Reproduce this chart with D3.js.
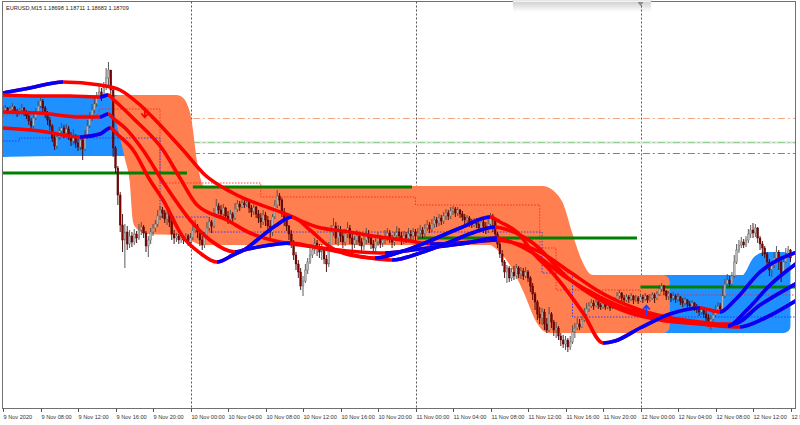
<!DOCTYPE html>
<html><head><meta charset="utf-8">
<script src="https://cdn.jsdelivr.net/npm/d3@7/dist/d3.min.js"></script>
<style>html,body{margin:0;padding:0;background:#fff;}svg{display:block;}</style>
</head><body>
<svg id="chart" width="800" height="425"></svg>
<script>
const symbol = "EURUSD,M15";
const quote = ["1.18698","1.18711","1.18683","1.18709"];
const tickLabels = ["9 Nov 2020","9 Nov 08:00","9 Nov 12:00","9 Nov 16:00","9 Nov 20:00",
 "10 Nov 00:00","10 Nov 04:00","10 Nov 08:00","10 Nov 12:00","10 Nov 16:00","10 Nov 20:00",
 "11 Nov 00:00","11 Nov 04:00","11 Nov 08:00","11 Nov 12:00","11 Nov 16:00","11 Nov 20:00",
 "12 Nov 00:00","12 Nov 04:00","12 Nov 08:00","12 Nov 12:00","12 Nov 16:00"];
const barsPerTick = 16;
const firstOpen = 1.19445;
const closeP = [1.1945,1.1946,1.1944,1.19455,1.19465,1.19445,1.19435,1.1945,1.1946,1.1944,
1.1942,1.19395,1.1937,1.1941,1.1944,1.1947,1.19495,1.1946,1.1943,1.194,
1.1937,1.1931,1.1927,1.19315,1.19345,1.1936,1.19335,1.19355,1.19325,1.19295,
1.19315,1.19285,1.19265,1.193,1.19255,1.19315,1.1937,1.1941,1.1945,1.1948,
1.19515,1.1954,1.1952,1.19565,1.1961,1.1965,1.1955,1.1926,1.1916,1.19025,
1.18875,1.188,1.1884,1.1878,1.1882,1.1879,1.1883,1.1881,1.1885,1.18865,
1.18835,1.1877,1.188,1.1884,1.1886,1.1888,1.1892,1.1895,1.18935,1.18905,
1.1893,1.1889,1.1883,1.1881,1.1882,1.188,1.18815,1.188,1.1882,1.1879,
1.1881,1.1885,1.1887,1.1884,1.188,1.18775,1.1882,1.1886,1.1889,1.1887,
1.18925,1.1897,1.1895,1.1893,1.1896,1.1892,1.18905,1.1893,1.1891,1.18955,
1.1898,1.18965,1.18985,1.18975,1.1899,1.1896,1.1894,1.18965,1.1893,1.1891,
1.1889,1.18925,1.189,1.1887,1.1884,1.18915,1.18975,1.1902,1.19,1.1894,
1.189,1.1887,1.1883,1.1879,1.18725,1.1868,1.1864,1.1857,1.18595,1.1865,
1.1869,1.18725,1.1875,1.18785,1.1876,1.1874,1.1875,1.18705,1.1868,1.1876,
1.1884,1.1887,1.1881,1.1885,1.1882,1.1879,1.1883,1.1886,1.1881,1.1878,
1.188,1.1882,1.1879,1.1877,1.188,1.1883,1.1881,1.1878,1.1876,1.1879,
1.1881,1.18785,1.188,1.1882,1.18835,1.1881,1.1879,1.1882,1.1884,1.1882,
1.188,1.18825,1.1881,1.1883,1.1882,1.1884,1.1882,1.18835,1.1885,1.1883,
1.1886,1.18875,1.18855,1.1888,1.189,1.18885,1.1891,1.18895,1.1892,1.18935,
1.1892,1.18945,1.18955,1.18935,1.1895,1.1893,1.18915,1.189,1.1891,1.1889,
1.18875,1.18895,1.1888,1.1886,1.1889,1.1887,1.1885,1.1888,1.1892,1.189,
1.1883,1.1878,1.1873,1.1869,1.1864,1.1866,1.1861,1.1864,1.1862,1.1866,
1.1863,1.18645,1.1862,1.1864,1.1861,1.1857,1.1853,1.1849,1.1843,1.1841,
1.1844,1.1838,1.1835,1.1843,1.1839,1.1835,1.1836,1.1832,1.183,1.1828,
1.183,1.18265,1.1829,1.1834,1.1836,1.1838,1.18365,1.184,1.1843,1.18455,
1.1847,1.18485,1.1847,1.1849,1.18475,1.18465,1.1848,1.18465,1.18475,1.1846,
1.1848,1.185,1.1852,1.18535,1.1851,1.185,1.18515,1.18505,1.1852,1.185,
1.1851,1.18495,1.18515,1.18505,1.1852,1.185,1.1851,1.18525,1.1851,1.1853,
1.18555,1.1857,1.18545,1.1852,1.1853,1.1851,1.1852,1.18505,1.18515,1.18495,
1.18485,1.185,1.1848,1.1847,1.18485,1.18465,1.18455,1.1844,1.1845,1.1843,
1.1841,1.1839,1.18405,1.18425,1.1845,1.1847,1.18455,1.1852,1.1858,1.186,
1.1858,1.1862,1.1869,1.1875,1.18775,1.1879,1.18775,1.188,1.1883,1.1885,
1.18835,1.1886,1.1881,1.1878,1.1876,1.1873,1.1869,1.1865,1.18675,1.1871,
1.1874,1.1869,1.18625,1.1869,1.18725,1.1875,1.1871];
const highP = [1.1947,1.19475,1.19465,1.1947,1.19485,1.1947,1.19455,1.1946,1.1948,1.19465,
1.1945,1.1943,1.1941,1.1943,1.1946,1.19495,1.19515,1.19505,1.1947,1.19445,
1.19415,1.1938,1.1933,1.1934,1.19365,1.19385,1.19375,1.1938,1.1937,1.1934,
1.19355,1.1933,1.19305,1.1932,1.1931,1.1935,1.194,1.1944,1.1948,1.19505,
1.1954,1.1957,1.1956,1.1959,1.1966,1.1969,1.1965,1.1956,1.1927,1.1917,
1.1904,1.1893,1.1888,1.1887,1.1885,1.1884,1.18855,1.18845,1.1888,1.1889,
1.18875,1.18845,1.1882,1.1886,1.1888,1.189,1.1895,1.1897,1.18965,1.1895,
1.18945,1.1894,1.18905,1.1885,1.18835,1.1883,1.1883,1.18825,1.18835,1.1883,
1.18835,1.1888,1.189,1.1888,1.1885,1.1882,1.1884,1.1889,1.18915,1.189,
1.1896,1.19005,1.18985,1.18975,1.1898,1.18965,1.18945,1.1895,1.1894,1.18985,
1.19,1.18995,1.19005,1.19,1.19005,1.18995,1.18975,1.18985,1.1897,1.1895,
1.18935,1.1895,1.1894,1.1892,1.189,1.1893,1.19,1.1905,1.19035,1.1901,
1.1896,1.1892,1.18875,1.1885,1.188,1.1874,1.187,1.1866,1.1862,1.1868,
1.1871,1.1876,1.18775,1.1881,1.188,1.1878,1.1878,1.1876,1.18725,1.1879,
1.18875,1.1891,1.1889,1.18875,1.1887,1.1884,1.18855,1.1889,1.18875,1.1883,
1.1882,1.1885,1.18835,1.1881,1.1882,1.1886,1.1885,1.18825,1.188,1.1881,
1.1884,1.18825,1.1882,1.1885,1.1886,1.1885,1.18825,1.1884,1.1887,1.1886,
1.1884,1.18845,1.1884,1.1886,1.1885,1.1886,1.18855,1.1886,1.18875,1.18865,
1.1888,1.189,1.1889,1.18905,1.1892,1.18915,1.1893,1.18925,1.1894,1.18955,
1.1895,1.18965,1.1897,1.18965,1.18965,1.18955,1.18945,1.1893,1.18925,1.1892,
1.18905,1.1891,1.1891,1.18895,1.18905,1.189,1.1889,1.18905,1.18935,1.1893,
1.1891,1.1884,1.1879,1.1875,1.187,1.18675,1.1867,1.1866,1.1867,1.1868,
1.1867,1.18665,1.1866,1.18665,1.1865,1.1862,1.18585,1.1854,1.185,1.18465,
1.1846,1.18455,1.1841,1.18465,1.1844,1.184,1.1839,1.1837,1.18335,1.18325,
1.1832,1.1831,1.1832,1.18375,1.18385,1.1841,1.18405,1.1842,1.1846,1.18485,
1.1849,1.18505,1.185,1.18505,1.185,1.18485,1.1849,1.18485,1.1849,1.1848,
1.1849,1.18515,1.1854,1.1855,1.1854,1.18525,1.1853,1.18525,1.18535,1.18525,
1.18525,1.1852,1.1853,1.18525,1.18535,1.18525,1.1853,1.1854,1.18535,1.18545,
1.18575,1.18585,1.18575,1.1855,1.18545,1.18535,1.1854,1.1853,1.18535,1.1852,
1.1851,1.18515,1.18505,1.18495,1.185,1.1849,1.1848,1.1847,1.1847,1.1846,
1.18445,1.1843,1.18425,1.18445,1.18475,1.1849,1.18485,1.1857,1.18605,1.1863,
1.1862,1.1864,1.18725,1.1878,1.188,1.18815,1.18805,1.1882,1.18855,1.18875,
1.18885,1.1888,1.18865,1.1882,1.18795,1.1877,1.1874,1.18705,1.1869,1.1874,
1.1877,1.1875,1.187,1.1872,1.1876,1.1877,1.18755];
const lowP = [1.19435,1.1944,1.1943,1.1943,1.19445,1.1943,1.19415,1.19425,1.1944,1.1942,
1.19405,1.19375,1.19355,1.1936,1.194,1.1943,1.1946,1.1944,1.1941,1.19375,
1.1935,1.1929,1.1925,1.19255,1.193,1.1933,1.1931,1.1932,1.193,1.1927,
1.19275,1.1926,1.19245,1.1925,1.192,1.19245,1.19305,1.1936,1.19395,1.19435,
1.19465,1.19505,1.19495,1.1951,1.1955,1.1957,1.19525,1.19215,1.19135,1.18975,
1.1884,1.1874,1.1866,1.1875,1.1876,1.18765,1.18775,1.18785,1.188,1.18825,
1.1881,1.1874,1.18715,1.1878,1.1882,1.1884,1.18865,1.189,1.1891,1.18885,
1.18875,1.18865,1.188,1.1878,1.1879,1.1878,1.18785,1.1878,1.1879,1.1877,
1.1876,1.188,1.18835,1.1881,1.1877,1.1875,1.1876,1.1881,1.18845,1.18835,
1.1886,1.1891,1.1893,1.18905,1.1891,1.18895,1.1888,1.1889,1.18885,1.189,
1.1894,1.18945,1.1896,1.1896,1.18965,1.18935,1.18915,1.18925,1.1891,1.18885,
1.1886,1.18875,1.1887,1.18845,1.1881,1.1882,1.18905,1.1896,1.1897,1.18915,
1.1887,1.18845,1.188,1.1876,1.187,1.1865,1.1861,1.1855,1.1852,1.18585,
1.1863,1.1868,1.1871,1.1873,1.1872,1.1871,1.187,1.1868,1.1864,1.18665,
1.1874,1.1882,1.1878,1.1877,1.1879,1.1876,1.1877,1.1881,1.1878,1.1875,
1.1876,1.18775,1.1877,1.1874,1.1875,1.1878,1.18785,1.18755,1.1873,1.1874,
1.1877,1.1876,1.18765,1.1878,1.18795,1.18785,1.1876,1.1877,1.188,1.18795,
1.18775,1.1878,1.18785,1.1879,1.18795,1.188,1.18795,1.188,1.18815,1.1881,
1.18815,1.18845,1.18835,1.1884,1.1886,1.18865,1.1887,1.18875,1.1888,1.189,
1.189,1.18905,1.18925,1.18915,1.1892,1.1891,1.18895,1.1888,1.18875,1.18865,
1.1886,1.18865,1.1886,1.1884,1.18845,1.18835,1.1883,1.18835,1.1886,1.1884,
1.188,1.1876,1.1871,1.1867,1.1861,1.18585,1.1859,1.18595,1.186,1.18605,
1.1861,1.18605,1.186,1.1861,1.1859,1.1854,1.185,1.1845,1.184,1.1838,
1.18375,1.1835,1.18335,1.1834,1.1836,1.1832,1.1831,1.183,1.1827,1.1826,
1.1825,1.1824,1.1825,1.1828,1.1831,1.1835,1.1835,1.1836,1.1839,1.1842,
1.1844,1.1846,1.1845,1.18465,1.18455,1.1845,1.18455,1.1845,1.18455,1.18445,
1.18455,1.1847,1.1849,1.18505,1.1849,1.18485,1.1849,1.18485,1.18495,1.1848,
1.1849,1.1848,1.1849,1.18485,1.18495,1.18485,1.1849,1.185,1.18485,1.185,
1.1852,1.1854,1.18525,1.185,1.185,1.1849,1.18495,1.18485,1.1849,1.18475,
1.18465,1.1847,1.1846,1.1845,1.18455,1.18445,1.18435,1.1842,1.18425,1.1841,
1.1839,1.18365,1.1835,1.1838,1.18415,1.18435,1.1844,1.18445,1.1851,1.1856,
1.18565,1.1857,1.1861,1.1868,1.18735,1.1876,1.1876,1.18765,1.18785,1.1881,
1.1881,1.18815,1.18785,1.1875,1.1872,1.1871,1.1866,1.1862,1.18615,1.1866,
1.187,1.1865,1.1859,1.1862,1.18685,1.1871,1.1869];

// smoothed moving averages: knots [bar, price]
const maSlow = [[0,1.19535],[11.5,1.1956],[25.6,1.1959],[41.4,1.19575],[49.9,1.1955],[58.5,1.19475],[67,1.19375],[76.8,1.1925],[86.2,1.19125],[98.1,1.19035],[119.5,1.18935],[134,1.18865],[148,1.1884],[160.9,1.18815],[173.7,1.18795],[182.2,1.1878],[195,1.18785],[210.8,1.188],[214.2,1.18795],[229.1,1.1874],[241.9,1.1864],[254.7,1.1854],[271.8,1.1845],[288.9,1.184],[305.9,1.1837],[314.5,1.18365],[325.1,1.1841],[338.8,1.185]];
const maMid1 = [[0,1.19525],[15.8,1.1952],[28.6,1.1952],[41.4,1.19515],[44.8,1.19525],[47.8,1.19495],[56.3,1.194],[68.3,1.1925],[75.5,1.1911],[82.8,1.18975],[95.6,1.189],[105.4,1.18835],[118.2,1.1879],[126.7,1.18775],[139.5,1.18755],[152.3,1.1874],[163,1.18735],[177.9,1.18755],[195,1.1878],[210.8,1.1881],[214.2,1.188],[226.1,1.18735],[240.6,1.1861],[254.7,1.18515],[267.5,1.1845],[284.6,1.1841],[297.4,1.1839],[305.9,1.1838],[311.5,1.1838],[323,1.18475],[338.8,1.18585]];
const maMid2 = [[0,1.1944],[15.8,1.19435],[32.9,1.19415],[41.4,1.19415],[44.8,1.1943],[47.8,1.194],[52.1,1.1936],[59.7,1.1925],[69.1,1.19075],[79.8,1.189],[88.3,1.188],[99,1.1874],[104.5,1.18755],[113.9,1.18775],[122.5,1.18785],[131,1.1877],[143.8,1.1874],[156.6,1.1871],[166,1.187],[177.9,1.18735],[190.7,1.1879],[201.4,1.1884],[209.9,1.18865],[214.2,1.18855],[226.1,1.18785],[240.6,1.18615],[254.7,1.185],[267.5,1.18435],[280.3,1.184],[297.4,1.1838],[309.3,1.1837],[317.4,1.1845],[327.3,1.18575],[338.8,1.18685]];
const maFast = [[0,1.1936],[15.8,1.19345],[32.9,1.19315],[41.4,1.1933],[45.7,1.1936],[49.1,1.19325],[55.5,1.1925],[62.7,1.191],[68.3,1.19],[76.8,1.18815],[84.1,1.18735],[91.3,1.1869],[98.1,1.18725],[104.1,1.1876],[108.4,1.188],[116.1,1.1887],[123.3,1.18915],[131,1.1885],[139.5,1.18765],[148,1.18725],[158.7,1.1871],[169.4,1.1874],[177.9,1.18775],[195,1.1886],[207.8,1.18915],[212.1,1.1889],[219.3,1.1884],[227,1.18725],[233.4,1.1865],[247.5,1.18435],[256,1.18285],[261.1,1.18295],[271.8,1.1836],[284.6,1.1843],[297.4,1.1846],[305.9,1.1844],[312.3,1.185],[323,1.1864],[338.8,1.1874]];

// channel bands: [bar, upper, lower]
const bandUpA = [[0,1.1949,1.1925],[20,1.1949,1.19255],[56,1.1949,1.19255]];
const bandDown = [[49.5,1.1949,1.1948],[52,1.1949,1.1936],[55,1.1949,1.1921],[57,1.1949,1.191],[58.5,1.1949,1.1889],[62,1.1949,1.18865],[74,1.1949,1.1886],[77,1.19425,1.1885],[80,1.19175,1.18835],[83,1.1905,1.1882],[85,1.19035,1.1881],[208,1.19035,1.1881],[213,1.19035,1.18775],[219,1.19035,1.1869],[225,1.19035,1.1855],[230,1.19035,1.1841],[233,1.1902,1.1837],[236,1.18975,1.1837],[240,1.18825,1.1837],[244,1.1869,1.1837],[249,1.186,1.1837],[252,1.1859,1.1837],[281.5,1.1859,1.1837]];
const bandUpB = [[254,1.1859,1.1837],[316.6,1.1859,1.1837],[319.5,1.18625,1.1837],[322.5,1.1869,1.1837],[325.5,1.18705,1.1837],[333,1.18705,1.1837]];

// trailing stops (step lines)
const stopRed = [[0,1.19425],[41,1.19455],[67,1.19085],[110,1.19015],[176,1.18975],[229,1.1876],[236,1.1855],[272,1.18525],[338,1.18525]];
const stopBlue = [[0,1.19295],[7,1.1931],[67,1.18915],[88,1.1884],[230,1.18635],[243,1.18415],[338,1.18415]];

// daily levels
const levelFrom = [0,81,177,272];
const levelTo = [78.5,174.5,270.5,338];
const levelPrice = [1.19135,1.19065,1.1881,1.18565];

// dash-dot horizontal levels
const hLevelPrice = [1.1941,1.1929,1.19235];
const hLevelColor = ["#f4a582","#8fd18f","#3cb043"];
const hLevelFrom = 81;

// signal arrows
const arrowDown = [[60.5,1.19435]];
const arrowUp = [[274.5,1.1845]];

const svg = d3.select("#chart");
const x = d3.scaleLinear().domain([0,338]).range([3, 3 + 338*2.34375]);
const y = d3.scaleLinear().domain([1.2, 1.2 - 425/20000]).range([0,425]);
const frame = {l:2.5, t:1.5, r:795.5, b:408.5};

const defs = svg.append("defs");
defs.append("clipPath").attr("id","plotclip").append("rect")
  .attr("x",frame.l).attr("y",frame.t).attr("width",frame.r-frame.l).attr("height",frame.b-frame.t);
const grad = defs.append("linearGradient").attr("id","shadow").attr("x1",0).attr("y1",0).attr("x2",0).attr("y2",1);
grad.append("stop").attr("offset","0%").attr("stop-color","#000").attr("stop-opacity",0.18);
grad.append("stop").attr("offset","100%").attr("stop-color","#000").attr("stop-opacity",0);

svg.append("rect").attr("width",800).attr("height",425).attr("fill","#fff");
const g = svg.append("g").attr("clip-path","url(#plotclip)");

// day separators
const sepBars = tickLabels.map((t,i)=>[t,i*barsPerTick]).filter(d=>d[0].endsWith("00:00")).map(d=>d[1]);
g.selectAll(".sep").data(sepBars).enter().append("line")
  .attr("x1",d=>Math.round(x(d))+0.5).attr("x2",d=>Math.round(x(d))+0.5)
  .attr("y1",frame.t).attr("y2",frame.b)
  .attr("stroke","#555").attr("stroke-width",1).attr("stroke-dasharray","2,2");

// dash-dot levels
g.append("line").attr("x1",x(hLevelFrom)).attr("x2",frame.r)
  .attr("y1",Math.round(y(hLevelPrice[1]))+0.5).attr("y2",Math.round(y(hLevelPrice[1]))+0.5)
  .attr("stroke","#e4e4e4").attr("stroke-width",2.5);
hLevelPrice.forEach((p,i)=>{
  g.append("line").attr("x1",x(hLevelFrom)).attr("x2",frame.r)
   .attr("y1",Math.round(y(p))+0.5).attr("y2",Math.round(y(p))+0.5)
   .attr("stroke",hLevelColor[i]).attr("stroke-width",1).attr("stroke-dasharray","7,3,2,3");
});

// bands (thick round-joined outline gives the rounded histogram look)
function band(knots,color){
  const area = d3.area().x(d=>x(d[0])).y1(d=>y(d[1])).y0(d=>y(d[2])).curve(d3.curveMonotoneX);
  g.append("path").attr("d",area(knots)).attr("fill",color)
   .attr("stroke",color).attr("stroke-width",14).attr("stroke-linejoin","round");
}
band(bandUpA,"#1e90ff");
band(bandUpB,"#1e90ff");
band(bandDown,"#ff7f50");

// trailing stop dotted lines
const stepLine = d3.line().x(d=>x(d[0])).y(d=>y(d[1])).curve(d3.curveStepAfter);
g.append("path").attr("d",stepLine(stopRed)).attr("fill","none").attr("stroke","#ff2020")
  .attr("stroke-width",1).attr("stroke-dasharray","1.5,1.5").attr("opacity",0.85);
g.append("path").attr("d",stepLine(stopBlue)).attr("fill","none").attr("stroke","#2030ff")
  .attr("stroke-width",1).attr("stroke-dasharray","1.5,1.5").attr("opacity",0.85);

// daily levels
levelPrice.forEach((p,i)=>{
  g.append("line").attr("x1",x(levelFrom[i])).attr("x2",x(levelTo[i]))
   .attr("y1",y(p)).attr("y2",y(p)).attr("stroke","#008000").attr("stroke-width",3);
});

// candles
const candles = closeP.map((c,i)=>{
  const o = i===0 ? firstOpen : closeP[i-1];
  return {i, o, c, h: Math.max(highP[i],o,c), l: Math.min(lowP[i],o,c)};
});
const cg = g.append("g");
cg.selectAll(".wick").data(candles).enter().append("line")
  .attr("x1",d=>x(d.i)).attr("x2",d=>x(d.i))
  .attr("y1",d=>y(d.h)).attr("y2",d=>y(d.l))
  .attr("stroke",d=>d.c>=d.o?"#4a4a4a":"#3a0000").attr("stroke-width",0.9);
cg.selectAll(".body").data(candles).enter().append("rect")
  .attr("x",d=>x(d.i)-0.9).attr("width",1.8)
  .attr("y",d=>y(Math.max(d.o,d.c)))
  .attr("height",d=>Math.max(0.8,Math.abs(y(d.o)-y(d.c))))
  .attr("fill",d=>d.c>=d.o?"#b8b8b8":"#800000")
  .attr("stroke",d=>d.c>=d.o?"#6a6a6a":"#500000").attr("stroke-width",0.4);

// moving averages coloured by slope (blue rising, red falling)
let clipId = 0;
function maLine(knots){
  const line = d3.line().x(d=>x(d[0])).y(d=>y(d[1])).curve(d3.curveMonotoneX);
  const dPath = line(knots);
  g.append("path").attr("d",dPath).attr("fill","none").attr("stroke","#ff0000")
   .attr("stroke-width",3.6).attr("stroke-linecap","round");
  let runs=[], start=null;
  for(let i=1;i<knots.length;i++){
    const up = knots[i][1] > knots[i-1][1];
    const flat = knots[i][1] === knots[i-1][1];
    if(up && start===null) start = knots[i-1][0];
    if(!up && !flat && start!==null){ runs.push([start,knots[i-1][0]]); start=null; }
  }
  if(start!==null) runs.push([start,knots[knots.length-1][0]+2]);
  runs.forEach(r=>{
    const id = "maclip"+(clipId++);
    defs.append("clipPath").attr("id",id).append("rect")
      .attr("x",x(r[0])).attr("width",x(r[1])-x(r[0])).attr("y",0).attr("height",425);
    g.append("g").attr("clip-path","url(#"+id+")").append("path").attr("d",dPath)
     .attr("fill","none").attr("stroke","#0000ff").attr("stroke-width",3.6);
  });
}
[maSlow,maMid1,maMid2,maFast].forEach(maLine);

// arrows
function arrow(pt,color,dir){
  const ax = x(pt[0]), ay = y(pt[1]);
  g.append("path").attr("transform",`translate(${ax},${ay}) scale(1,${dir})`)
   .attr("d","M0,-5 L0,4 M-3,1 L0,4.5 L3,1").attr("fill","none")
   .attr("stroke",color).attr("stroke-width",1.8).attr("stroke-linecap","round").attr("stroke-linejoin","round");
}
arrowDown.forEach(p=>arrow(p,"#ff0000",1));
arrowUp.forEach(p=>arrow(p,"#2040ff",-1));

// frame
svg.append("rect").attr("x",frame.l).attr("y",frame.t).attr("width",frame.r-frame.l).attr("height",frame.b-frame.t)
  .attr("fill","none").attr("stroke","#707070").attr("stroke-width",1);

// top overlay strip (toolbar shadow)
svg.append("rect").attr("x",513).attr("y",2).attr("width",138).attr("height",10).attr("fill","url(#shadow)");
svg.append("rect").attr("x",513).attr("y",0).attr("width",138).attr("height",2.5).attr("fill","#f2f2f2").attr("stroke","#c8c8c8").attr("stroke-width",0.5);
svg.append("path").attr("d",`M${x(272)-3},2 L${x(272)+3},2 L${x(272)},6 Z`).attr("fill","#8a8a8a");

// title
svg.append("text").attr("x",6).attr("y",9.5)
  .attr("font-family","Liberation Sans, Arial, sans-serif").attr("font-size",5.6).attr("fill","#222")
  .text(symbol + "  " + quote.join(" "));

// x axis ticks + labels
const axg = svg.append("g");
tickLabels.forEach((t,i)=>{
  const tx = Math.round(x(i*barsPerTick))+0.5;
  axg.append("line").attr("x1",tx).attr("x2",tx).attr("y1",frame.b).attr("y2",frame.b+3.5).attr("stroke","#555");
  axg.append("text").attr("x",tx).attr("y",418.5)
    .attr("font-family","Liberation Sans, Arial, sans-serif").attr("font-size",5.6).attr("fill","#333").text(t);
});
</script>
</body></html>
